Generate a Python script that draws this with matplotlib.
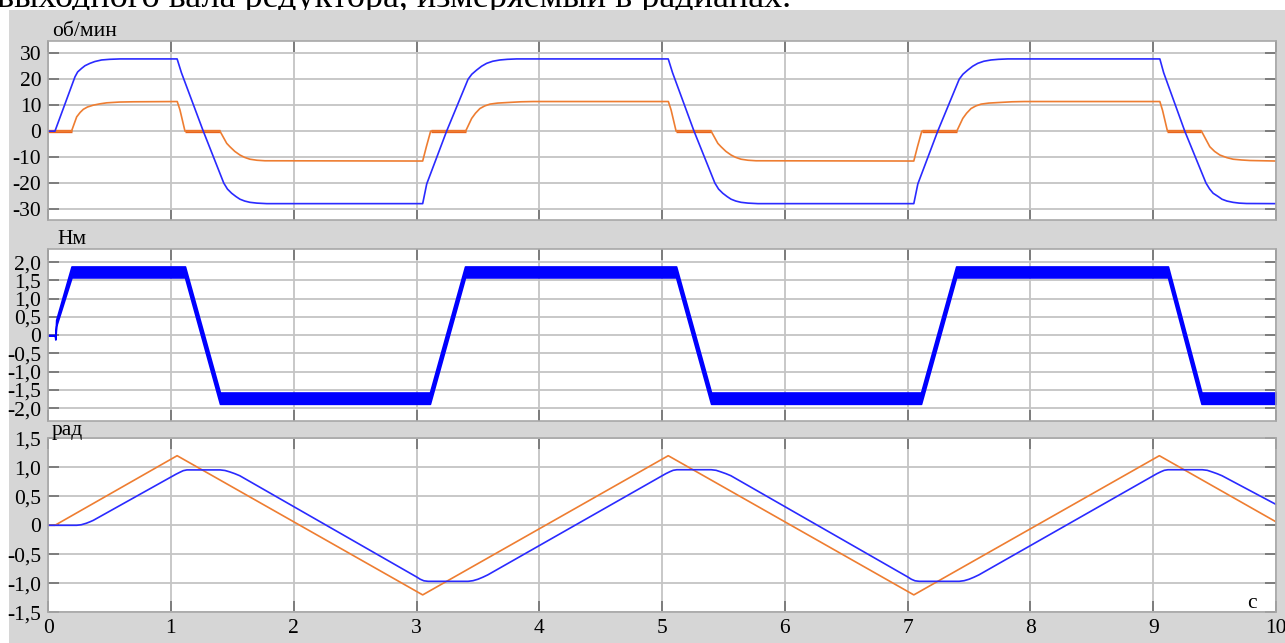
import matplotlib
matplotlib.use('Agg')
import matplotlib.pyplot as plt
from matplotlib.patches import Rectangle
from matplotlib.ticker import FuncFormatter, MultipleLocator

plt.rcParams['font.family'] = ['Liberation Serif', 'DejaVu Serif']

# скорость, об/мин (синяя - двигатель, оранжевая - выходной вал)
speed_t = [0, 0.055, 0.218, 0.24, 0.273, 0.30, 0.34, 0.38, 0.435, 0.50, 0.585,
           1.05, 1.085, 1.263, 1.43, 1.46, 1.494, 1.53, 1.562, 1.60, 1.643, 1.70, 1.78,
           3.05, 3.083, 3.245, 3.42, 3.45, 3.489, 3.53, 3.571, 3.62, 3.679, 3.74, 3.815,
           5.05, 5.085, 5.26, 5.43, 5.46, 5.494, 5.53, 5.562, 5.60, 5.643, 5.70, 5.78,
           7.05, 7.083, 7.245, 7.42, 7.45, 7.489, 7.53, 7.571, 7.62, 7.679, 7.74, 7.815,
           9.054, 9.085, 9.257, 9.43, 9.46, 9.488, 9.53, 9.56, 9.60, 9.65, 9.70, 9.76, 10.0]
speed_v = [0, 0, 20.9, 22.8, 24.2, 25.2, 26.1, 26.8, 27.4, 27.65, 27.8,
           27.8, 22.5, 0, -20.0, -22.3, -23.9, -25.2, -26.2, -26.9, -27.4, -27.7, -27.9,
           -27.9, -20.3, 0, 20.0, 21.9, 23.5, 25.0, 26.1, 26.9, 27.4, 27.65, 27.8,
           27.8, 22.5, 0, -20.0, -22.3, -23.9, -25.2, -26.2, -26.9, -27.4, -27.7, -27.9,
           -27.9, -20.3, 0, 20.0, 21.9, 23.5, 25.0, 26.1, 26.9, 27.4, 27.65, 27.8,
           27.8, 22.5, 0, -20.0, -22.3, -23.9, -25.2, -26.2, -26.9, -27.4, -27.7, -27.85, -27.9]

out_t = [0, 0.19, 0.232, 0.26, 0.286, 0.32, 0.367, 0.42, 0.476, 0.58, 0.693,
         1.051, 1.073, 1.114, 1.399, 1.454, 1.48, 1.52, 1.562, 1.60, 1.643, 1.70, 1.765,
         3.05, 3.08, 3.115, 3.40, 3.449, 3.48, 3.516, 3.555, 3.598, 3.66, 3.734, 3.85, 3.95,
         5.051, 5.073, 5.114, 5.399, 5.454, 5.48, 5.52, 5.562, 5.60, 5.643, 5.70, 5.765,
         7.05, 7.08, 7.115, 7.40, 7.449, 7.48, 7.516, 7.555, 7.598, 7.66, 7.734, 7.85, 7.95,
         9.054, 9.076, 9.116, 9.393, 9.461, 9.50, 9.543, 9.60, 9.651, 9.72, 9.787, 10.0]
out_v = [0, 0, 5.5, 7.2, 8.4, 9.3, 10.0, 10.5, 10.9, 11.2, 11.3,
         11.4, 8.2, 0, 0, -4.7, -6.0, -7.8, -9.2, -10.1, -10.8, -11.2, -11.4,
         -11.5, -6.0, 0, 0, 4.9, 6.9, 8.7, 9.7, 10.4, 10.8, 11.0, 11.3, 11.4,
         11.4, 8.2, 0, 0, -4.7, -6.0, -7.8, -9.2, -10.1, -10.8, -11.2, -11.4,
         -11.5, -6.0, 0, 0, 4.9, 6.9, 8.7, 9.7, 10.4, 10.8, 11.0, 11.3, 11.4,
         11.4, 8.0, 0, 0, -6.0, -7.8, -9.2, -10.2, -10.8, -11.1, -11.3, -11.5]

# интервалы, где выходной вал стоит (люфт)
dwell = [(0, 0.19), (1.114, 1.399), (3.115, 3.40), (5.114, 5.399), (7.115, 7.40), (9.116, 9.393)]

# момент, Нм - полоса шума (верх / низ)
torque_t = [0, 0.055, 0.058, 0.065, 0.19, 1.114, 1.399, 3.109, 3.395, 5.114, 5.399,
            7.109, 7.395, 9.12, 9.393, 10.0]
torque_hi = [0, 0, -0.08, 0.42, 1.88, 1.88, -1.57, -1.57, 1.88, 1.88, -1.57,
             -1.57, 1.88, 1.88, -1.57, -1.57]
torque_lo = [0, 0, -0.12, 0.25, 1.58, 1.58, -1.88, -1.88, 1.58, 1.58, -1.88,
             -1.88, 1.58, 1.58, -1.88, -1.88]

# угол, рад
ang_t = [0, 0.055, 1.05, 3.05, 5.05, 7.05, 9.05, 10.0]
ang_v = [0, 0, 1.20, -1.20, 1.20, -1.20, 1.20, 0.06]

pos_t = [0, 0.232, 0.27, 0.31, 0.34, 0.367, 1.04, 1.073, 1.10, 1.13, 1.40, 1.44, 1.48, 1.52, 1.56,
         3.00, 3.03, 3.06, 3.095, 3.42, 3.46, 3.50, 3.54, 3.58,
         5.03, 5.063, 5.09, 5.12, 5.40, 5.44, 5.48, 5.52, 5.56,
         7.00, 7.03, 7.06, 7.095, 7.42, 7.46, 7.50, 7.54, 7.58,
         9.03, 9.063, 9.09, 9.12, 9.40, 9.44, 9.48, 9.52, 9.56, 10.0]
pos_v = [0, 0, 0.01, 0.035, 0.06, 0.085, 0.88, 0.915, 0.942, 0.955, 0.955, 0.945, 0.92, 0.89, 0.855,
         -0.89, -0.93, -0.957, -0.966, -0.966, -0.955, -0.93, -0.895, -0.855,
         0.89, 0.924, 0.948, 0.958, 0.958, 0.948, 0.92, 0.89, 0.855,
         -0.89, -0.93, -0.957, -0.966, -0.966, -0.955, -0.93, -0.895, -0.855,
         0.89, 0.924, 0.948, 0.958, 0.958, 0.948, 0.92, 0.89, 0.855, 0.36]

BLUE = '#2a2aff'
ORANGE = '#ee7d31'
GREY_BG = '#d6d6d6'

W, H = 1285, 643
fig = plt.figure(figsize=(W / 100, H / 100), dpi=100)
fig.patch.set_facecolor('white')

# строка текста сверху (уходит за край) и серая подложка
fig.text(-3 / W, 1 - 7 / H, 'выходного вала редуктора, измеряемый в радианах.',
         fontsize=26, va='baseline', ha='left', zorder=0)
fig.patches.append(Rectangle((9 / W, 0), 1 - 9 / W, 1 - 10 / H, transform=fig.transFigure,
                             facecolor=GREY_BG, edgecolor='none', zorder=1))

left = 48.2 / W
width = (1276 - 48.2) / W


def make_ax(top_px, bot_px):
    ax = fig.add_axes([left, 1 - bot_px / H, width, (bot_px - top_px) / H])
    ax.set_zorder(2)
    ax.set_facecolor('white')
    ax.set_xlim(0, 10)
    ax.xaxis.set_major_locator(MultipleLocator(1))
    ax.grid(True, color='#c4c4c4', linewidth=1.3)
    ax.set_axisbelow(True)
    ax.tick_params(direction='in', length=8, width=1.2, color='#707070',
                   top=True, right=True, labelsize=15.5, pad=5)
    for s in ax.spines.values():
        s.set_color('#a8a8a8')
        s.set_linewidth(1.2)
    return ax


def comma(v, pos):
    if abs(v) < 1e-9:
        return '0'
    return ('%.1f' % v).replace('.', ',')


ax1 = make_ax(41, 220)
ax1.set_ylim(-34.2, 34.7)
ax1.yaxis.set_major_locator(MultipleLocator(10))
ax1.yaxis.set_major_formatter(FuncFormatter(lambda v, p: '%d' % round(v)))
ax1.tick_params(labelbottom=False)
for a, b in dwell:
    ax1.plot([a, b], [0, 0], color='#e8641e', linewidth=2.4, solid_capstyle='butt')
ax1.plot(out_t, out_v, color=ORANGE, linewidth=1.2)
ax1.plot(speed_t, speed_v, color=BLUE, linewidth=1.2)

ax2 = make_ax(249.3, 421)
ax2.set_ylim(-2.35, 2.35)
ax2.yaxis.set_major_locator(MultipleLocator(0.5))
ax2.yaxis.set_major_formatter(FuncFormatter(comma))
ax2.tick_params(labelbottom=False)
ax2.fill_between(torque_t, torque_lo, torque_hi, color='#0000ff', linewidth=1.2,
                 edgecolor='#0000ff')

ax3 = make_ax(438.3, 612.3)
ax3.set_ylim(-1.5, 1.5)
ax3.yaxis.set_major_locator(MultipleLocator(0.5))
ax3.yaxis.set_major_formatter(FuncFormatter(comma))
ax3.plot(ang_t, ang_v, color=ORANGE, linewidth=1.2)
ax3.plot(pos_t, pos_v, color=BLUE, linewidth=1.2)

# подписи единиц
fig.text(52 / W, 1 - 36 / H, 'об/мин', fontsize=15.5, va='baseline', zorder=3)
fig.text(57 / W, 1 - 244 / H, 'Нм', fontsize=15.5, va='baseline', zorder=3)
fig.text(52 / W, 1 - 435 / H, 'рад', fontsize=15.5, va='baseline', zorder=3)
fig.text(1247 / W, 1 - 608 / H, 'c', fontsize=15.5, va='baseline', zorder=3)

fig.savefig('out.png', dpi=100)
